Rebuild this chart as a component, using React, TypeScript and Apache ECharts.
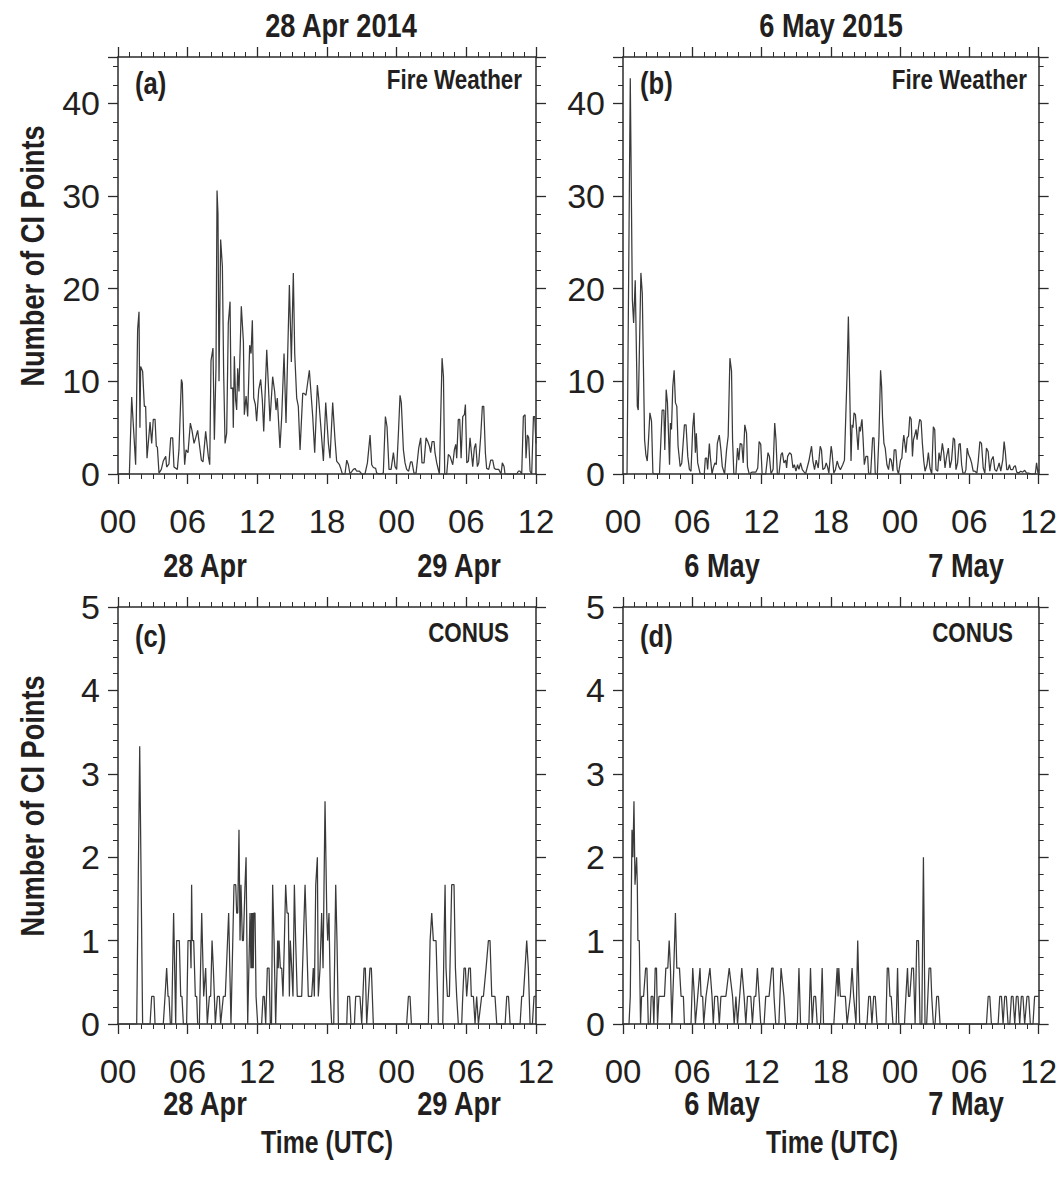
import React, { useEffect, useRef } from 'react';
import * as echarts from 'echarts';

// ---------- data ----------
const xTickLabels = ['00', '06', '12', '18', '00', '06', '12'];
const columnTitles = ['28 Apr 2014', '6 May 2015'];
const dayLabels = [
  ['28 Apr', '29 Apr'],
  ['6 May', '7 May'],
];
const panelLetters = ['(a)', '(b)', '(c)', '(d)'];
const panelRegions = ['Fire Weather', 'Fire Weather', 'CONUS', 'CONUS'];
const yTitle = 'Number of CI Points';
const xTitle = 'Time (UTC)';
const fireYMax = 45;
const conusYMax = 5;

// hours since 00 UTC of the first day, number of CI points
const fireA: number[][] = [
  [0, 0], [0.98, 0], [1.18, 8.3], [1.52, 1.0], [1.69, 15.6], [1.81, 17.5], [1.89, 5.0], [1.95, 11.6], [2.12, 11.1], [2.27, 7.3], [2.38, 7.3], [2.5, 1.7], [2.76, 5.6], [2.9, 3.3], [3.04, 5.9], [3.19, 5.9], [3.3, 3.0], [3.39, 2.9], [3.53, 0.1], [3.73, 0.5], [3.9, 1.4], [4.11, 1.9], [4.19, 0.75], [4.39, 1.1], [4.54, 3.9], [4.71, 3.9], [4.82, 0.75], [5.11, 0.5], [5.25, 2.6], [5.46, 10.2], [5.54, 9.8], [5.66, 3.7], [5.74, 1.0], [5.86, 2.6], [6.03, 2.3], [6.23, 5.5], [6.37, 4.7], [6.55, 3.3], [6.69, 3.9], [6.86, 4.7], [7.01, 3.2], [7.18, 1.5], [7.32, 1.3], [7.55, 4.6], [7.78, 1.9], [7.9, 1.0], [8.01, 12.2], [8.18, 13.6], [8.3, 3.7], [8.44, 11.6], [8.53, 30.6], [8.61, 28.1], [8.7, 10.0], [8.84, 25.3], [8.99, 22.4], [9.1, 10.9], [9.22, 3.3], [9.36, 4.4], [9.5, 16.3], [9.65, 18.6], [9.73, 9.2], [9.88, 9.3], [9.93, 5.0], [10.02, 12.7], [10.13, 8.0], [10.22, 6.9], [10.31, 11.4], [10.42, 8.9], [10.62, 18.1], [10.8, 14.3], [10.88, 6.4], [11.03, 8.4], [11.17, 6.2], [11.34, 13.9], [11.46, 13.0], [11.57, 16.6], [11.69, 8.2], [11.83, 7.5], [11.94, 5.7], [12.12, 9.1], [12.29, 10.2], [12.43, 8.0], [12.55, 4.6], [12.81, 13.4], [12.95, 9.6], [13.09, 5.7], [13.32, 10.5], [13.49, 8.9], [13.61, 6.9], [13.72, 8.2], [13.95, 2.8], [14.1, 6.2], [14.3, 13.0], [14.47, 5.5], [14.76, 20.4], [14.93, 12.1], [15.1, 21.7], [15.22, 13.0], [15.39, 8.2], [15.53, 7.3], [15.68, 2.6], [15.91, 8.7], [16.02, 8.7], [16.19, 8.5], [16.48, 11.2], [16.77, 6.2], [16.94, 2.3], [17.17, 9.6], [17.28, 8.2], [17.51, 4.4], [17.69, 1.4], [17.89, 7.7], [18.12, 3.3], [18.26, 1.7], [18.49, 7.7], [18.69, 3.7], [18.83, 1.4], [19.07, 1.0], [19.21, 0.5], [19.32, 0], [19.55, 0], [19.7, 1.5], [19.84, 1.0], [19.98, 0], [20.27, 0.5], [20.41, 0.6], [20.56, 0.3], [20.79, 0.3], [20.99, 0], [21.27, 0], [21.48, 1.2], [21.71, 4.2], [21.85, 1.0], [21.99, 0.7], [22.19, 0.6], [22.28, 0.1], [22.57, 0], [22.85, 0.1], [23.03, 6.2], [23.17, 5.1], [23.34, 0.5], [23.52, 0.5], [23.72, 2.3], [23.86, 0.8], [24.0, 0.5], [24.15, 4.4], [24.29, 8.5], [24.4, 7.7], [24.58, 2.6], [24.72, 1.2], [24.86, 0.5], [25.03, 0.3], [25.2, 1.3], [25.32, 1.3], [25.49, 0.1], [25.67, 0.1], [25.9, 2.8], [26.07, 3.9], [26.18, 1.2], [26.36, 1.2], [26.53, 3.9], [26.68, 3.5], [26.82, 3.0], [26.93, 2.3], [27.05, 3.5], [27.22, 3.5], [27.3, 2.3], [27.45, 1.2], [27.68, 0], [27.91, 12.5], [28.03, 10.5], [28.14, 0], [28.31, 0], [28.45, 2.1], [28.6, 1.9], [28.83, 1.0], [28.97, 2.6], [29.09, 3.2], [29.17, 1.7], [29.31, 5.9], [29.43, 5.9], [29.55, 1.7], [29.69, 6.2], [29.83, 6.4], [29.92, 7.5], [30.04, 1.2], [30.18, 1.4], [30.32, 3.9], [30.43, 2.4], [30.55, 0.8], [30.69, 2.8], [30.81, 3.3], [30.95, 0.8], [31.07, 1.2], [31.24, 4.1], [31.38, 7.3], [31.5, 7.3], [31.64, 2.3], [31.75, 0.6], [31.93, 0.5], [32.1, 1.5], [32.27, 1.5], [32.41, 0.6], [32.56, 0.5], [32.79, 0.5], [32.99, 0], [33.1, 1.2], [33.25, 0.8], [33.33, 0], [34.34, 0], [34.48, 0.3], [34.63, 0.3], [34.77, 0], [34.91, 6.2], [35.06, 6.4], [35.14, 1.7], [35.26, 4.2], [35.37, 3.9], [35.49, 0.3], [35.63, 0], [35.78, 6.2], [35.89, 6.2], [36.0, 3.3],
];

const fireB: number[][] = [
  [0, 0], [0.35, 0], [0.63, 42.7], [0.81, 18.8], [0.92, 16.3], [1.06, 20.9], [1.12, 20.9], [1.24, 7.3], [1.32, 6.9], [1.55, 21.7], [1.67, 19.5], [1.87, 3.7], [1.98, 2.1], [2.1, 1.4], [2.19, 3.2], [2.33, 6.6], [2.47, 5.7], [2.59, 0.1], [2.73, 0], [3.16, 0], [3.39, 6.9], [3.54, 6.9], [3.62, 2.6], [3.74, 9.1], [3.85, 7.7], [3.94, 4.4], [4.03, 1.0], [4.11, 5.5], [4.2, 4.8], [4.31, 9.4], [4.43, 11.2], [4.54, 7.7], [4.66, 7.3], [4.77, 3.0], [4.95, 0.8], [5.09, 1.2], [5.32, 5.3], [5.46, 5.3], [5.61, 1.9], [5.75, 0.5], [5.89, 0.3], [6.04, 5.0], [6.15, 6.6], [6.27, 2.3], [6.35, 4.4], [6.47, 1.2], [6.67, 0.1], [6.84, 0], [7.04, 0], [7.13, 1.7], [7.25, 1.7], [7.33, 0.5], [7.48, 3.3], [7.56, 1.9], [7.71, 0], [7.82, 0.65], [7.96, 1.2], [8.08, 1.0], [8.17, 3.3], [8.34, 4.2], [8.48, 2.6], [8.6, 0.8], [8.8, 0], [8.97, 2.6], [9.11, 4.1], [9.26, 12.5], [9.4, 11.1], [9.49, 3.7], [9.6, 0], [9.78, 0], [9.92, 2.8], [10.03, 1.5], [10.15, 3.3], [10.29, 3.2], [10.41, 1.2], [10.55, 5.3], [10.7, 4.4], [10.78, 0.8], [10.93, 0], [11.16, 0.2], [11.5, 0.2], [11.67, 0.65], [11.79, 3.5], [11.93, 3.2], [12.05, 0], [12.36, 0], [12.56, 2.3], [12.68, 1.9], [12.82, 0], [13.0, 0.5], [13.14, 5.5], [13.25, 3.7], [13.37, 0], [13.51, 0], [13.69, 2.1], [13.8, 2.3], [13.94, 1.2], [14.09, 1.5], [14.17, 0.65], [14.26, 1.9], [14.43, 2.3], [14.58, 2.1], [14.72, 0.65], [14.84, 1.0], [14.98, 0.3], [15.12, 1.0], [15.24, 0.5], [15.38, 1.2], [15.53, 0.47], [15.81, 0], [16.1, 1.4], [16.33, 3.0], [16.45, 1.4], [16.59, 0.47], [16.73, 1.5], [16.91, 0.65], [17.08, 3.0], [17.19, 2.6], [17.31, 0.47], [17.48, 0.65], [17.6, 1.2], [17.71, 0.8], [17.83, 0.1], [18.03, 3.0], [18.11, 2.3], [18.26, 0.1], [18.4, 0.47], [18.55, 1.4], [18.69, 0.8], [18.83, 0.47], [19.03, 1.0], [19.18, 1.5], [19.26, 4.8], [19.41, 10.9], [19.52, 17.0], [19.61, 10.9], [19.75, 1.4], [19.84, 5.3], [19.92, 5.0], [20.01, 6.6], [20.13, 6.4], [20.24, 4.6], [20.36, 2.6], [20.47, 5.1], [20.56, 4.6], [20.64, 5.5], [20.7, 5.9], [20.79, 3.9], [20.9, 1.0], [21.04, 1.9], [21.19, 1.9], [21.27, 0.1], [21.45, 0], [21.62, 3.9], [21.74, 3.9], [21.85, 0], [22.03, 0], [22.17, 4.1], [22.31, 11.2], [22.4, 9.4], [22.48, 6.0], [22.6, 3.3], [22.71, 2.8], [22.86, 1.0], [23.0, 0.47], [23.12, 1.7], [23.23, 1.5], [23.38, 0.3], [23.49, 2.6], [23.63, 2.6], [23.75, 0.47], [23.86, 0], [24.04, 1.5], [24.15, 1.7], [24.24, 3.3], [24.32, 4.2], [24.41, 3.3], [24.5, 2.3], [24.61, 3.9], [24.73, 4.1], [24.84, 6.2], [24.96, 5.9], [25.07, 1.9], [25.16, 3.7], [25.27, 4.2], [25.39, 4.8], [25.47, 3.7], [25.59, 5.0], [25.7, 5.9], [25.82, 5.7], [25.93, 3.3], [26.05, 1.4], [26.16, 0.3], [26.33, 1.0], [26.45, 2.3], [26.59, 0.65], [26.74, 0], [26.88, 5.1], [27.0, 4.8], [27.11, 0.47], [27.26, 0.3], [27.37, 2.3], [27.49, 1.4], [27.66, 3.3], [27.78, 2.3], [27.89, 0.65], [28.03, 1.9], [28.18, 2.8], [28.32, 0.65], [28.46, 1.5], [28.61, 3.9], [28.72, 3.7], [28.84, 0.47], [28.98, 1.2], [29.1, 3.2], [29.21, 3.3], [29.33, 1.0], [29.44, 0.1], [29.61, 0.1], [29.7, 0.47], [29.81, 2.8], [29.93, 2.1], [30.07, 1.7], [30.19, 1.2], [30.33, 0.3], [30.48, 0.3], [30.65, 0.1], [30.77, 1.4], [30.91, 3.5], [31.05, 3.3], [31.2, 0.65], [31.34, 0.1], [31.48, 2.8], [31.63, 2.4], [31.77, 0.3], [31.91, 1.5], [32.06, 1.9], [32.2, 0.47], [32.35, 0.3], [32.49, 0.8], [32.58, 1.2], [32.72, 0.3], [32.89, 1.5], [33.01, 3.5], [33.12, 2.3], [33.24, 0.47], [33.35, 0.47], [33.47, 1.0], [33.58, 0.47], [33.75, 0.47], [33.87, 0.8], [33.98, 0.9], [34.1, 0.2], [34.27, 0.1], [34.44, 0.3], [34.62, 0.2], [34.79, 0.4], [34.96, 0.1], [35.13, 0.1], [35.36, 0], [35.71, 0], [35.82, 1.2], [35.94, 0.1], [36.0, 0.5],
];

const conusC: number[][] = [
  [0, 0], [1.61, 0], [1.87, 3.33], [2.12, 0], [2.76, 0], [2.9, 0.33], [3.1, 0.33], [3.19, 0], [3.9, 0], [4.05, 0.33], [4.19, 0.67], [4.31, 0.33], [4.39, 0.33], [4.51, 0], [4.62, 0], [4.79, 1.33], [4.97, 0], [5.05, 1.0], [5.28, 1.0], [5.4, 0.33], [5.51, 0.33], [5.63, 0], [5.91, 0], [6.03, 1.0], [6.23, 1.0], [6.29, 0.67], [6.34, 1.67], [6.4, 1.0], [6.52, 1.0], [6.66, 0.33], [6.78, 0.33], [6.86, 0], [7.01, 0], [7.21, 1.33], [7.38, 0.33], [7.55, 0.67], [7.69, 0], [7.87, 0.33], [7.98, 0.33], [8.1, 1.0], [8.21, 0.67], [8.3, 0.33], [8.38, 0], [8.56, 0.33], [8.73, 0.33], [8.84, 0], [9.07, 0.33], [9.24, 0.33], [9.53, 1.33], [9.73, 0], [9.99, 1.67], [10.14, 1.67], [10.22, 1.33], [10.31, 1.33], [10.42, 2.33], [10.51, 1.0], [10.59, 1.67], [10.71, 1.0], [10.8, 1.0], [10.94, 1.67], [11.03, 2.0], [11.17, 0], [11.37, 1.33], [11.45, 0.67], [11.5, 1.33], [11.55, 0.67], [11.6, 1.33], [11.65, 0.67], [11.7, 1.33], [11.8, 1.33], [11.89, 0.33], [12.03, 0], [12.37, 0], [12.49, 0.33], [12.6, 0.33], [12.72, 0], [12.86, 0.67], [13.01, 0.67], [13.12, 0], [13.22, 0], [13.32, 1.67], [13.44, 1.0], [13.58, 0], [13.7, 0.67], [13.75, 1.0], [13.8, 0.67], [13.87, 1.0], [13.98, 0.67], [14.1, 0.67], [14.21, 0.33], [14.33, 1.0], [14.44, 1.67], [14.56, 1.33], [14.67, 1.33], [14.76, 0.33], [14.84, 1.0], [14.96, 0.67], [15.07, 0.33], [15.19, 1.67], [15.3, 1.0], [15.44, 0.33], [15.82, 0.33], [16.11, 1.67], [16.25, 1.0], [16.39, 0.33], [16.68, 0.33], [16.82, 0.67], [16.91, 0.33], [17.03, 1.67], [17.17, 2.0], [17.25, 0.33], [17.4, 0.67], [17.54, 1.33], [17.66, 0.67], [17.83, 2.67], [17.98, 1.33], [18.06, 1.0], [18.17, 1.33], [18.29, 0.33], [18.4, 0], [18.58, 0], [18.75, 1.67], [18.86, 1.0], [18.98, 0], [19.7, 0], [19.78, 0.33], [19.95, 0.33], [20.07, 0], [20.36, 0], [20.47, 0.33], [20.84, 0.33], [20.99, 0], [21.19, 0.67], [21.3, 0.67], [21.42, 0], [21.7, 0.67], [21.82, 0.67], [21.99, 0], [24.86, 0], [25.01, 0.33], [25.15, 0.33], [25.27, 0], [26.73, 0], [26.88, 1.0], [27.02, 1.33], [27.16, 1.0], [27.39, 1.0], [27.59, 0], [27.97, 0], [28.08, 1.0], [28.17, 1.67], [28.25, 0.67], [28.37, 0.33], [28.54, 0.33], [28.74, 1.67], [28.94, 1.67], [29.06, 0.67], [29.17, 0.33], [29.31, 0], [29.6, 0], [29.69, 0.33], [29.8, 0.67], [29.92, 0.67], [30.03, 0.33], [30.21, 0.67], [30.35, 0.67], [30.43, 0.33], [30.61, 0.33], [30.75, 0], [30.89, 0.33], [31.04, 0], [31.32, 0.33], [31.47, 0.33], [31.7, 0.67], [31.9, 1.0], [32.04, 1.0], [32.19, 0.33], [32.47, 0.33], [32.62, 0], [33.34, 0], [33.48, 0.33], [33.63, 0.33], [33.77, 0], [34.63, 0], [34.77, 0.33], [34.91, 0.33], [35.06, 0.67], [35.2, 1.0], [35.34, 0.67], [35.49, 0], [35.69, 0], [35.83, 0.33], [36.0, 0.33],
];

const conusD: number[][] = [
  [0, 0], [0.52, 0], [0.63, 0.33], [0.78, 2.33], [0.86, 2.0], [0.95, 2.67], [1.04, 1.67], [1.09, 1.67], [1.18, 2.0], [1.24, 1.67], [1.29, 1.0], [1.41, 1.0], [1.52, 0], [1.61, 0.33], [1.78, 0.33], [1.96, 0.67], [2.07, 0.67], [2.19, 0], [2.36, 0], [2.44, 0.33], [2.59, 0.33], [2.67, 0], [2.79, 0.67], [2.9, 0.67], [2.99, 0], [3.11, 0.33], [3.59, 0.33], [3.71, 0.67], [3.88, 0.67], [4.0, 1.0], [4.11, 0.67], [4.23, 0], [4.4, 0.67], [4.54, 1.33], [4.66, 0.67], [4.89, 0.67], [5.03, 0.33], [5.23, 0.33], [5.32, 0], [5.89, 0], [6.04, 0.67], [6.18, 0.33], [6.27, 0], [6.47, 0.33], [6.67, 0.67], [6.76, 0.33], [6.9, 0.33], [6.99, 0], [7.19, 0.33], [7.53, 0.67], [7.71, 0.33], [7.82, 0], [7.94, 0.33], [8.19, 0.33], [8.34, 0], [8.48, 0.33], [8.91, 0.33], [9.2, 0.67], [9.49, 0.33], [9.63, 0], [9.78, 0.33], [9.92, 0], [10.29, 0.67], [10.49, 0.33], [10.64, 0], [10.78, 0.33], [11.07, 0.33], [11.21, 0], [11.36, 0.33], [11.5, 0.33], [11.64, 0.67], [11.79, 0.33], [11.93, 0], [12.22, 0], [12.36, 0.33], [12.65, 0.33], [12.88, 0.67], [13.0, 0.67], [13.08, 0.33], [13.23, 0], [13.5, 0], [13.69, 0.67], [13.94, 0.33], [14.09, 0], [15.1, 0], [15.24, 0.67], [15.38, 0], [16.1, 0], [16.24, 0.67], [16.39, 0], [16.53, 0.33], [16.68, 0.33], [16.82, 0], [17.11, 0], [17.25, 0.67], [17.37, 0], [18.26, 0], [18.4, 0.33], [18.55, 0.67], [18.63, 0.33], [18.69, 0.67], [18.83, 0.33], [19.12, 0.33], [19.26, 0.33], [19.41, 0], [19.69, 0.33], [19.84, 0.67], [19.98, 0.33], [20.18, 0], [20.33, 1.0], [20.5, 0], [21.13, 0], [21.28, 0.33], [21.42, 0.33], [21.56, 0], [21.71, 0.33], [21.85, 0.33], [22.0, 0], [22.77, 0], [22.89, 0.67], [23.0, 0.67], [23.12, 0.33], [23.23, 0.33], [23.38, 0], [23.66, 0], [23.78, 0.67], [23.89, 0], [24.38, 0], [24.5, 0.33], [24.64, 0.67], [24.73, 0.33], [24.84, 0.33], [25.01, 0.67], [25.16, 0.67], [25.3, 0], [25.44, 1.0], [25.59, 1.0], [25.73, 0], [25.88, 0], [26.02, 2.0], [26.16, 0], [26.3, 0], [26.51, 0.67], [26.65, 0.67], [26.74, 0.33], [26.88, 0], [27.03, 0], [27.17, 0.33], [27.32, 0.33], [27.46, 0], [31.48, 0], [31.63, 0.33], [31.77, 0.33], [31.91, 0], [32.49, 0], [32.63, 0.33], [32.78, 0.33], [32.92, 0], [33.06, 0.33], [33.2, 0.33], [33.35, 0], [33.5, 0], [33.64, 0.33], [33.78, 0.33], [33.93, 0], [34.07, 0.33], [34.21, 0.33], [34.36, 0], [34.5, 0.33], [34.64, 0.33], [34.79, 0], [34.99, 0.33], [35.14, 0.33], [35.28, 0], [35.51, 0], [35.65, 0.33], [36.0, 0.33],
];

const panelData = [fireA, fireB, conusC, conusD];

// ---------- style ----------
const AX = '#2b2b2b';
const TXT = '#231f20';
const LINE = '#3a3a3a';
const SANS = '"Liberation Sans", Arial, Helvetica, sans-serif';
const NARROW_SCALE = 0.8;

const GRIDS = [
  { left: 118, top: 57 },
  { left: 623, top: 57 },
  { left: 118, top: 607 },
  { left: 623, top: 607 },
];
const GW = 418;
const GH = 417;

function buildOption() {
  const xAxes: any[] = [];
  const yAxes: any[] = [];
  const series: any[] = [];

  GRIDS.forEach((g, i) => {
    const isFire = i < 2;
    const xBase = {
      type: 'value',
      gridIndex: i,
      min: 0,
      max: 36,
      interval: 6,
      splitLine: { show: false },
      minorSplitLine: { show: false },
      axisLine: { show: true, onZero: false, lineStyle: { color: AX, width: 1.5 } },
      axisTick: { show: true, inside: false, length: 10, lineStyle: { color: AX, width: 1.3 } },
      minorTick: { show: true, splitNumber: 6, length: 5, lineStyle: { color: AX, width: 1 } },
    };
    const xBottom = xAxes.length;
    xAxes.push({
      ...xBase,
      position: 'bottom',
      axisLabel: {
        show: true,
        margin: 31,
        fontSize: 33,
        fontFamily: SANS,
        color: TXT,
        showMinLabel: true,
        showMaxLabel: true,
        formatter: (v: number) => xTickLabels[Math.round(v / 6)] ?? '',
      },
    });
    xAxes.push({ ...xBase, position: 'top', axisLabel: { show: false } });

    const yMax = isFire ? fireYMax : conusYMax;
    const yBase = {
      type: 'value',
      gridIndex: i,
      min: 0,
      max: yMax,
      interval: isFire ? 10 : 1,
      splitLine: { show: false },
      minorSplitLine: { show: false },
      axisLine: { show: true, onZero: false, lineStyle: { color: AX, width: 1.5 } },
      axisTick: { show: true, inside: false, length: 10, lineStyle: { color: AX, width: 1.3 } },
      minorTick: isFire
        ? { show: false }
        : { show: true, splitNumber: 5, length: 5, lineStyle: { color: AX, width: 1 } },
    };
    const yLeft = yAxes.length;
    yAxes.push({
      ...yBase,
      position: 'left',
      axisLabel: {
        show: true,
        margin: 18,
        fontSize: 34,
        fontFamily: SANS,
        color: TXT,
        showMaxLabel: true,
        formatter: (v: number) => (v > (isFire ? 40 : 5) ? '' : String(v)),
      },
    });
    yAxes.push({ ...yBase, position: 'right', axisLabel: { show: false } });
    if (isFire) {
      const minorBase = {
        type: 'value',
        gridIndex: i,
        min: 0,
        max: yMax,
        interval: 2,
        splitLine: { show: false },
        axisLine: { show: false, onZero: false },
        axisLabel: { show: false },
        axisTick: { show: true, inside: false, length: 5, lineStyle: { color: AX, width: 1 } },
      };
      yAxes.push({ ...minorBase, position: 'left' });
      yAxes.push({ ...minorBase, position: 'right' });
    }

    series.push({
      type: 'line',
      xAxisIndex: xBottom,
      yAxisIndex: yLeft,
      data: panelData[i],
      symbol: 'none',
      showSymbol: false,
      silent: true,
      clip: true,
      lineStyle: { color: LINE, width: 1.25 },
    });
  });

  // condensed bold text: Liberation Sans Bold squeezed horizontally
  const txt = (x: number, y: number, text: string, size: number, align = 'center', rot = 0) => ({
    type: 'text',
    x,
    y,
    rotation: rot,
    scaleX: NARROW_SCALE,
    silent: true,
    style: {
      text,
      font: `bold ${size}px ${SANS}`,
      fill: TXT,
      align,
      textAlign: align,
      verticalAlign: 'middle',
      textVerticalAlign: 'middle',
    },
  });

  const graphics: any[] = [
    txt(341, 25, columnTitles[0], 34),
    txt(831, 25, columnTitles[1], 34),
  ];
  const letterPos = [[135, 83], [640, 83], [135, 636], [640, 636]];
  const regionPos = [[522, 79], [1027, 79], [509, 632], [1013, 632]];
  for (let i = 0; i < 4; i++) {
    graphics.push(txt(letterPos[i][0], letterPos[i][1], panelLetters[i], 32, 'left'));
    graphics.push(txt(regionPos[i][0], regionPos[i][1], panelRegions[i], 28, 'right'));
  }
  const dayX = [[205, 459], [722, 966]];
  [565, 1103].forEach((y) => {
    for (let c = 0; c < 2; c++) {
      graphics.push(txt(dayX[c][0], y, dayLabels[c][0], 34));
      graphics.push(txt(dayX[c][1], y, dayLabels[c][1], 34));
    }
  });
  graphics.push(txt(32, 256, yTitle, 34, 'center', Math.PI / 2));
  graphics.push(txt(32, 806, yTitle, 34, 'center', Math.PI / 2));
  graphics.push(txt(327, 1143, xTitle, 31));
  graphics.push(txt(832, 1143, xTitle, 31));

  return {
    animation: false,
    backgroundColor: '#ffffff',
    grid: GRIDS.map((g) => ({ left: g.left, top: g.top, width: GW, height: GH, containLabel: false })),
    xAxis: xAxes,
    yAxis: yAxes,
    series,
    graphic: graphics,
  };
}

export default function App() {
  const ref = useRef<HTMLDivElement>(null);
  useEffect(() => {
    document.body.style.margin = '0';
    const chart = echarts.init(ref.current as HTMLDivElement, null, { renderer: 'svg' });
    chart.setOption(buildOption() as any);
    return () => chart.dispose();
  }, []);
  return <div ref={ref} style={{ width: 1060, height: 1177 }} />;
}
